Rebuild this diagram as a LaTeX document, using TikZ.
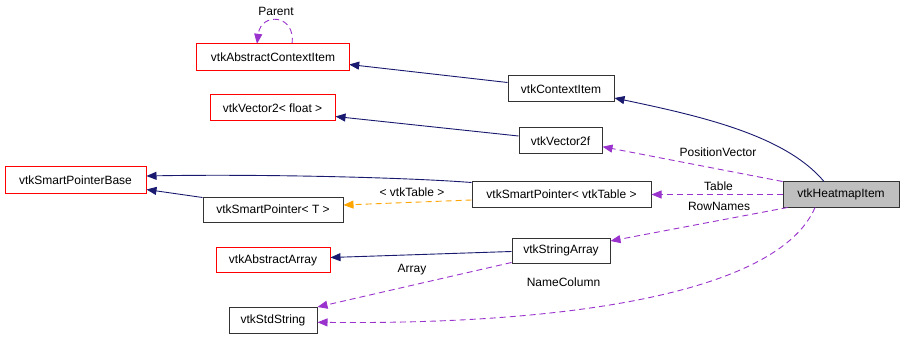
\documentclass[tikz,border=0pt]{standalone}
\usepackage{fontspec}
\setmainfont{Liberation Sans}
\usetikzlibrary{arrows.meta}
\definecolor{navy}{HTML}{191970}
\definecolor{purp}{HTML}{9A32CD}
\definecolor{orng}{HTML}{FFA500}
\definecolor{hmgray}{HTML}{BFBFBF}
\definecolor{boxred}{HTML}{FF0000}
\AtBeginDocument{\fontsize{12}{14}\selectfont}
\tikzset{
  cls/.style={draw=black!80, line width=1pt, inner sep=0pt, text=black, anchor=center},
  redcls/.style={cls, draw=boxred},
  plaincls/.style={inner sep=0pt, text=black, anchor=center},
  redframe/.style={draw=boxred, line width=1pt},
  tip/.style={-{Triangle[length=10pt,width=8pt]}},
  inh/.style={tip, draw=navy, line width=0.9pt},
  use/.style={tip, draw=purp, line width=0.9pt, dash pattern=on 6pt off 4pt},
  tmpl/.style={tip, draw=orng, line width=0.9pt, dash pattern=on 6pt off 4pt},
  lbl/.style={inner sep=0pt, text=black, anchor=center}
}
\begin{document}
\begin{tikzpicture}[x=1pt,y=-1pt,font=\fontsize{12}{14}\selectfont]
\fill[white] (0,0) rectangle (904,339);
\useasboundingbox (0,0) rectangle (904,339);
% nodes
\node[cls, minimum width=106pt, minimum height=26pt] (ctx) at (561,89) {vtkContextItem};
\node[plaincls, minimum width=152pt, minimum height=26pt] (aci) at (273,57) {vtkAbstractContextItem};
\node[redcls, minimum width=125pt, minimum height=26pt] (v2) at (272.5,108) {vtkVector2< float >};
\node[cls, minimum width=83pt, minimum height=26pt] (v2f) at (560.5,141) {vtkVector2f};
\node[redcls, minimum width=141pt, minimum height=26pt] (spb) at (75.5,180) {vtkSmartPointerBase};
\node[cls, minimum width=140pt, minimum height=25pt] (spT) at (273,209.5) {vtkSmartPointer< T >};
\node[cls, minimum width=179pt, minimum height=25pt] (spt) at (561.5,194.5) {vtkSmartPointer< vtkTable >};
\node[cls, fill=hmgray, minimum width=116pt, minimum height=25pt] (hm) at (841,194.5) {vtkHeatmapItem};
\node[redcls, minimum width=114pt, minimum height=25pt] (aa) at (273,260) {vtkAbstractArray};
\node[cls, minimum width=98pt, minimum height=25pt] (sa) at (561,250.5) {vtkStringArray};
\node[cls, minimum width=88pt, minimum height=26pt] (ss) at (273,320) {vtkStdString};
% labels
\node[lbl] (lparent) at (276,11) {Parent};
\node[lbl] (ltmpl) at (412,192) {< vtkTable >};
\node[lbl] (lpos) at (718,152) {PositionVector};
\node[lbl] (ltable) at (718.5,186) {Table};
\node[lbl] (lrow) at (719,206) {RowNames};
\node[lbl] (larray) at (412,270) {Array};
\node[lbl] (lname) at (563.5,282.5) {NameColumn};
% inheritance
\draw[inh] ([yshift=6.5pt]ctx.west) -- ([yshift=-7.5pt]aci.east);
\draw[inh] ([yshift=5pt]v2f.west) -- ([yshift=-8.5pt]v2.east);
\draw[inh] ([xshift=-17pt]hm.north) .. controls (785,135) and (700,116) .. ([yshift=-9pt]ctx.east);
\draw[inh] ([yshift=-1pt]spt.north west) .. controls (400,177) and (250,174) .. ([yshift=4pt]spb.east);
\draw[inh] ([yshift=-1pt]spT.north west) -- ([yshift=-9.5pt]spb.east);
\draw[inh] ([yshift=-1pt]sa.west) -- ([yshift=2.5pt]aa.east);
% template
\draw[tmpl] ([yshift=-5.5pt]spt.west) -- ([yshift=4.5pt]spT.east);
% usage
\draw[use] ([xshift=19pt]aci.north) .. controls (296,14) and (261,12) .. ([xshift=-16pt]aci.north);
\draw[use] (hm.north west) -- ([yshift=-5.7pt]v2f.east);
\draw[use] (hm.west) -- (spt.east);
\draw[use] ([xshift=5pt]hm.south west) -- ([yshift=9.5pt]sa.east);
\draw[use] ([yshift=1pt]sa.south west) -- ([yshift=-0.5pt]ss.north east);
\draw[use] ([xshift=-26pt]hm.south) .. controls (780,290) and (580,325) .. ([yshift=-2.3pt]ss.east);
% red frame of the first class box
\draw[redframe] (aci.north west) rectangle (aci.south east);
\end{tikzpicture}
\end{document}
